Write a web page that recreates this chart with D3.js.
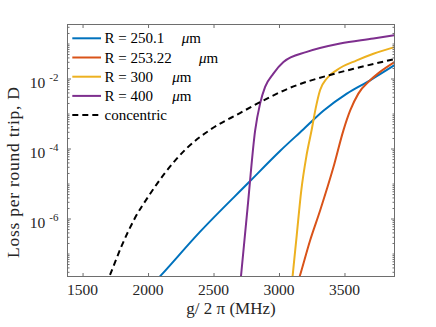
<!DOCTYPE html>
<html>
<head>
<meta charset="utf-8">
<script src="https://cdn.jsdelivr.net/npm/d3@7"></script>
<style>
  body { margin: 0; background: #fff; }
  svg { display: block; }
  svg text { font-family: "Liberation Serif", "Times New Roman", Times, "DejaVu Serif", serif; }
</style>
</head>
<body>
<svg id="svg" width="436" height="327"></svg>
<script>
// g/2pi (MHz) and loss per round trip D
var g250 = [2050, 2100, 2398, 2772, 3008, 3185, 3339, 3518, 3696, 3882];
var D250 = [1.5e-8, 2.4e-8, 4.2e-7, 1.1e-5, 8.5e-5, 3.5e-4, 1.2e-3, 3.7e-3, 8.9e-3, 2.4e-2];

var g253 = [3140, 3156, 3238, 3314, 3416, 3492, 3543, 3606, 3696, 3772, 3882];
var D253 = [1.35e-8, 2.1e-8, 2.4e-7, 1.7e-6, 2.95e-5, 3.3e-4, 1.2e-3, 3.7e-3, 8.9e-3, 1.55e-2, 2.95e-2];

var g300 = [3095, 3103, 3135, 3170, 3210, 3250, 3280, 3314, 3365, 3441, 3594, 3721, 3882];
var D300 = [1.05e-8, 2.1e-8, 3.2e-7, 6.3e-6, 6.3e-5, 3.5e-4, 1.4e-3, 4.7e-3, 1e-2, 1.74e-2, 3.3e-2, 5.1e-2, 7.9e-2];

var g400 = [2700, 2709, 2760, 2818, 2856, 2894, 2957, 3034, 3212, 3467, 3721, 3882];
var D400 = [9.5e-9, 2.1e-8, 2e-6, 3.3e-4, 1.95e-3, 5.75e-3, 1.38e-2, 2.95e-2, 5.75e-2, 0.1, 0.139, 0.174];

var gCon = [1680, 1702, 1801, 1900, 2015, 2129, 2297, 2473, 2702, 2855, 3083, 3389, 3595, 3882];
var DCon = [1.35e-8, 2.1e-8, 1.74e-7, 1.03e-6, 5.0e-6, 2.0e-5, 1.03e-4, 3.4e-4, 1.03e-3, 2.1e-3, 5.4e-3, 1.26e-2, 2.0e-2, 3.6e-2];

var seriesNames = ["R = 250.1", "R = 253.22", "R = 300", "R = 400", "concentric"];
var xTicks = [1500, 2000, 2500, 3000, 3500];
var yTickExp = [-2, -4, -6];

var colors = ["#0072BD", "#D95319", "#EDB120", "#7E2F8E", "#000000"];

var svg = d3.select("#svg");
var plot = {left: 67.5, right: 394.5, top: 24.5, bottom: 276.5};

var xScale = d3.scaleLinear()
    .domain([1385, 3882])
    .range([plot.left, plot.right]);

var yScale = d3.scaleLog()
    .domain([Math.pow(10, -7.657), Math.pow(10, -0.457)])
    .range([plot.bottom, plot.top]);

var series = [
    {x: g250, y: D250},
    {x: g253, y: D253},
    {x: g300, y: D300},
    {x: g400, y: D400},
    {x: gCon, y: DCon}
];

svg.append("clipPath").attr("id", "clip")
    .append("rect")
    .attr("x", plot.left).attr("y", plot.top)
    .attr("width", plot.right - plot.left)
    .attr("height", plot.bottom - plot.top);

var line = d3.line()
    .x(function(d) { return xScale(d[0]); })
    .y(function(d) { return yScale(d[1]); })
    .curve(d3.curveMonotoneX);

var lines = svg.append("g").attr("clip-path", "url(#clip)");
series.forEach(function(s, i) {
    var pts = s.x.map(function(v, j) { return [v, s.y[j]]; });
    lines.append("path")
        .attr("d", line(pts))
        .attr("fill", "none")
        .attr("stroke", colors[i])
        .attr("stroke-width", 2)
        .attr("stroke-dasharray", i == 4 ? "6,4" : null);
});

// axes: ticks inward on all four sides
var axisColor = "#6e6e6e";
var minorTicks = [];
for (var e = -8; e <= 0; e++) {
    for (var k = 1; k <= 9; k++) {
        var v = k * Math.pow(10, e);
        if (k == 1 && yTickExp.indexOf(e) >= 0) continue;
        if (v >= yScale.domain()[0] && v <= yScale.domain()[1]) minorTicks.push(v);
    }
}
var majorTicks = yTickExp.map(function(e) { return Math.pow(10, e); });

function styleAxis(g) {
    g.select(".domain").remove();
    g.selectAll("line").attr("stroke", axisColor);
    g.selectAll("text").remove();
}

svg.append("g").attr("transform", "translate(0," + plot.bottom + ")")
    .call(d3.axisBottom(xScale).tickValues(xTicks).tickSizeInner(-3.5).tickSizeOuter(0)).call(styleAxis);
svg.append("g").attr("transform", "translate(0," + plot.top + ")")
    .call(d3.axisTop(xScale).tickValues(xTicks).tickSizeInner(-3.5).tickSizeOuter(0)).call(styleAxis);
svg.append("g").attr("transform", "translate(" + plot.left + ",0)")
    .call(d3.axisLeft(yScale).tickValues(majorTicks).tickSizeInner(-3.5).tickSizeOuter(0)).call(styleAxis);
svg.append("g").attr("transform", "translate(" + plot.right + ",0)")
    .call(d3.axisRight(yScale).tickValues(majorTicks).tickSizeInner(-3.5).tickSizeOuter(0)).call(styleAxis);
svg.append("g").attr("transform", "translate(" + plot.left + ",0)")
    .call(d3.axisLeft(yScale).tickValues(minorTicks).tickSizeInner(-2).tickSizeOuter(0)).call(styleAxis);
svg.append("g").attr("transform", "translate(" + plot.right + ",0)")
    .call(d3.axisRight(yScale).tickValues(minorTicks).tickSizeInner(-2).tickSizeOuter(0)).call(styleAxis);

svg.append("rect")
    .attr("x", plot.left).attr("y", plot.top)
    .attr("width", plot.right - plot.left)
    .attr("height", plot.bottom - plot.top)
    .attr("fill", "none")
    .attr("stroke", axisColor)
    .attr("stroke-width", 1);

// tick labels
svg.append("g").selectAll("text")
    .data(xTicks)
    .enter().append("text")
    .attr("x", function(d) { return xScale(d); })
    .attr("y", 295)
    .attr("text-anchor", "middle")
    .attr("font-size", 15.5)
    .attr("fill", "#262626")
    .text(function(d) { return d; });

var yLab = svg.append("g").selectAll("text")
    .data(yTickExp)
    .enter().append("text")
    .attr("x", 58.5)
    .attr("y", function(d) { return yScale(Math.pow(10, d)) + 9; })
    .attr("text-anchor", "end")
    .attr("font-size", 15.5)
    .attr("fill", "#262626");
yLab.append("tspan").text("10");
yLab.append("tspan").attr("dx", 4).attr("dy", -6.3).attr("font-size", 11)
    .text(function(d) { return "-" + Math.abs(d); });

// axis labels
var xl = svg.append("text")
    .attr("x", (plot.left + plot.right) / 2)
    .attr("y", 313.5)
    .attr("text-anchor", "middle")
    .attr("font-size", 17)
    .attr("fill", "#262626");
xl.append("tspan").text("g/ 2 ");
xl.append("tspan").text("\u03c0");
xl.append("tspan").text(" (MHz)");

svg.append("text")
    .attr("transform", "translate(19,172.5) rotate(-90)")
    .attr("text-anchor", "middle")
    .attr("font-size", 17.5)
    .attr("textLength", 171)
    .attr("lengthAdjust", "spacing")
    .attr("fill", "#262626")
    .text("Loss per round trip, D");

// legend
var unitX = [181.7, 199, 172.3, 172.3];
var leg = svg.append("g");
seriesNames.forEach(function(name, i) {
    var yy = 38.3 + i * 19.2;
    leg.append("line")
        .attr("x1", 72.3).attr("x2", 101)
        .attr("y1", yy).attr("y2", yy)
        .attr("stroke", colors[i])
        .attr("stroke-width", 2)
        .attr("stroke-dasharray", i == 4 ? "6,4" : null);
    leg.append("text")
        .attr("x", 104.5).attr("y", yy + 5)
        .attr("font-size", 15)
        .attr("fill", "#000")
        .text(name);
    if (i < 4) {
        var u = leg.append("text")
            .attr("x", unitX[i]).attr("y", yy + 5)
            .attr("font-size", 15)
            .attr("fill", "#000");
        u.append("tspan").attr("font-style", "italic").text("\u03bc");
        u.append("tspan").text("m");
    }
});
</script>
</body>
</html>
